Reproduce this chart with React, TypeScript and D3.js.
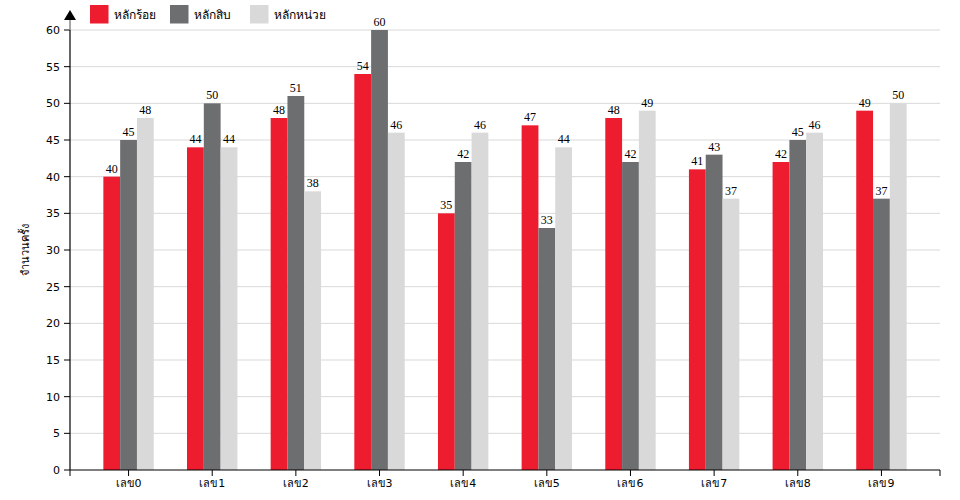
import React from "react";
import * as d3 from "d3";

const categories = ["เลข0", "เลข1", "เลข2", "เลข3", "เลข4", "เลข5", "เลข6", "เลข7", "เลข8", "เลข9"];
const seriesNames = ["หลักร้อย", "หลักสิบ", "หลักหน่วย"];
const hundreds = [40, 44, 48, 54, 35, 47, 48, 41, 42, 49];
const tens = [45, 50, 51, 60, 42, 33, 42, 43, 45, 37];
const units = [48, 44, 38, 46, 46, 44, 49, 37, 46, 50];
const yTicks = [0, 5, 10, 15, 20, 25, 30, 35, 40, 45, 50, 55, 60];
const yLabel = "จำนวนครั้ง";

const colors = ["#ed1c2e", "#6d6e70", "#d9d9d9"];

export default function App() {
  const width = 960, height = 500;
  const left = 70, right = 940, top = 30, bottom = 470;
  const series = [hundreds, tens, units];
  const x = d3.scalePoint<string>().domain(categories).range([left, right]).padding(0.7);
  const y = d3.scaleLinear().domain([0, 60]).range([bottom, top]);
  const barW = 16.8;
  const sans = "DejaVu Sans, Noto Sans, sans-serif";
  return (
    <svg width={width} height={height} style={{ position: "absolute", left: 0, top: 0 }}>
      <rect width={width} height={height} fill="#fff" />
      {yTicks.map((t) => (
        <g key={t}>
          {t > 0 && <line x1={left} x2={right} y1={y(t)} y2={y(t)} stroke="#d9d9d9" strokeWidth={1} />}
          <line x1={left - 6} x2={left} y1={y(t)} y2={y(t)} stroke="#000" />
          <text x={left - 10} y={y(t)} dy="0.35em" textAnchor="end" fontSize={11} fontFamily={sans} fill="#000">{t}</text>
        </g>
      ))}
      {categories.map((c, i) => (
        <g key={c}>
          {series.map((s, k) => {
            const bx = (x(c) as number) - 1.5 * barW + k * barW;
            return (
              <g key={k}>
                <rect x={bx} y={y(s[i])} width={barW} height={bottom - y(s[i])} fill={colors[k]} />
                <text x={bx + barW / 2} y={y(s[i]) - 4} textAnchor="middle" fontSize={12} fontFamily="Liberation Serif, Times New Roman, serif" fill="#000">{s[i]}</text>
              </g>
            );
          })}
          <line x1={x(c)} x2={x(c)} y1={bottom} y2={bottom + 6} stroke="#000" />
          <text x={x(c)} y={bottom + 17} textAnchor="middle" fontSize={11} fontFamily={sans} fill="#000">{c}</text>
        </g>
      ))}
      <line x1={left} x2={right} y1={bottom} y2={bottom} stroke="#000" strokeWidth={1.2} />
      <line x1={left} x2={left} y1={bottom} y2={bottom + 6} stroke="#000" />
      <line x1={right} x2={right} y1={bottom} y2={bottom + 6} stroke="#000" />
      <line x1={left} x2={left} y1={bottom} y2={top} stroke="#000" strokeWidth={1.2} />
      <line x1={left} x2={left} y1={top} y2={18} stroke="#888" strokeWidth={1.5} />
      <path d={`M${left},10 L${left - 6},20 L${left + 6},20 Z`} fill="#000" />
      <text transform={`translate(29,${(top + bottom) / 2}) rotate(-90)`} textAnchor="middle" fontSize={11} fontFamily={sans} fill="#000">{yLabel}</text>
      {seriesNames.map((n, k) => (
        <g key={n} transform={`translate(${90 + k * 80},5)`}>
          <rect width={18.5} height={18.5} fill={colors[k]} />
          <text x={24} y={9.5} dy="0.35em" fontSize={12} fontFamily={sans} fill="#000">{n}</text>
        </g>
      ))}
    </svg>
  );
}
